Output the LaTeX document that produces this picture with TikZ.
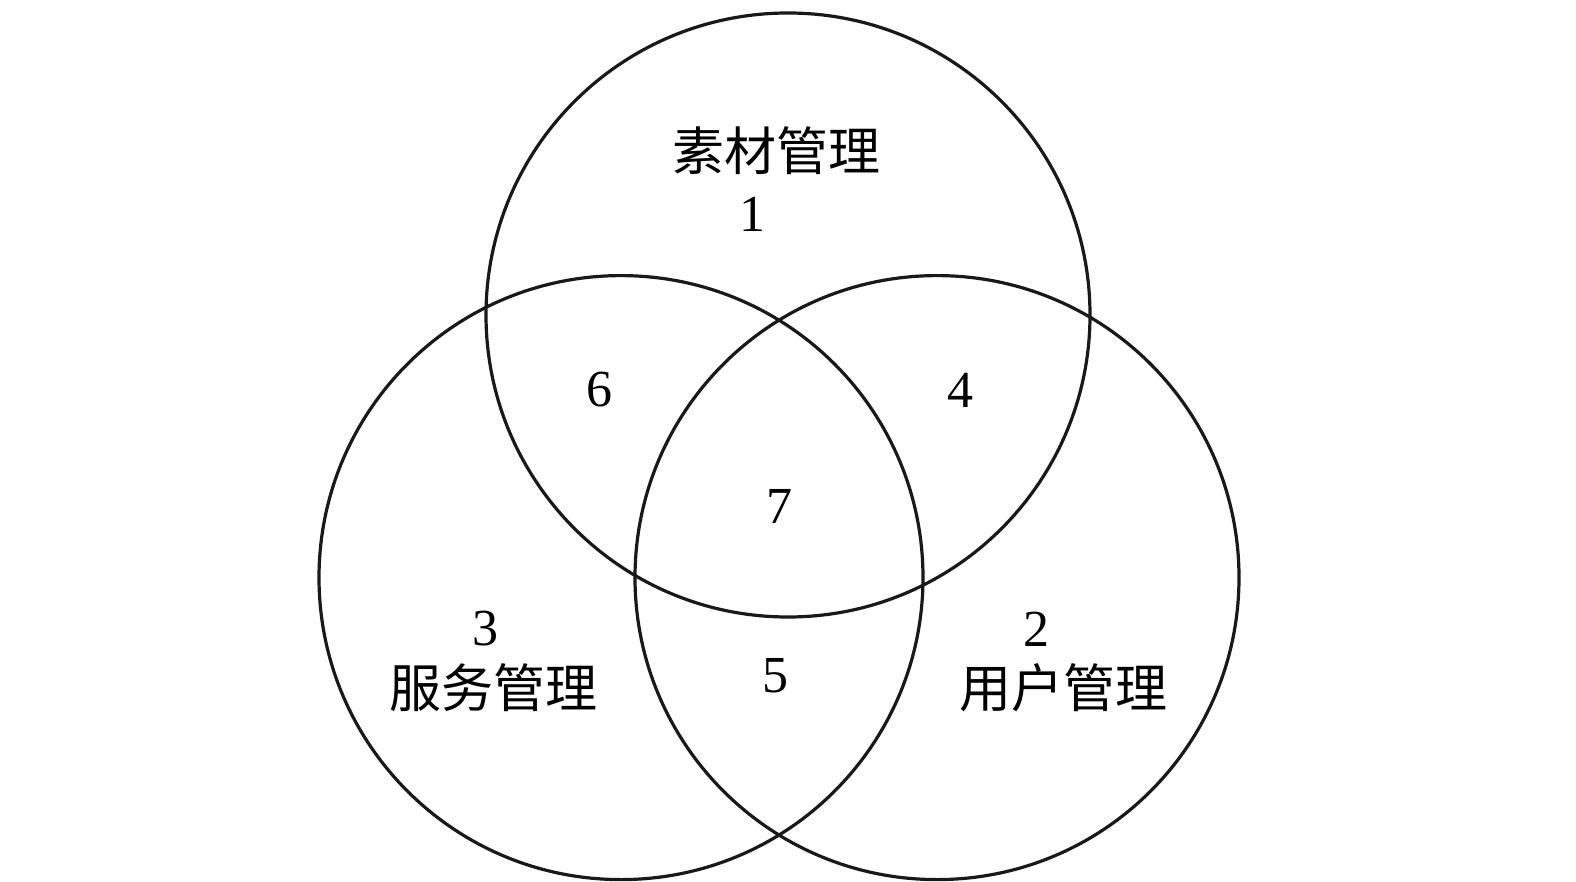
\documentclass[tikz,border=0pt]{standalone}
\usepackage{fontspec}
\setmainfont{Liberation Serif}
\newfontfamily\cjk{Noto Sans CJK SC}
\begin{document}
\begin{tikzpicture}[x=1pt,y=-1pt,
  ring/.style={draw=black!90, line width=3.2pt, circle, minimum size=604pt, inner sep=0pt},
  zh/.style={font=\cjk\fontsize{52}{52}\selectfont, inner sep=0pt},
  num/.style={font=\fontsize{52}{52}\selectfont, inner sep=0pt}]
\useasboundingbox (0,0) rectangle (1576,882);
\node[ring] (A) at (788,315) {};
\node[ring] (B) at (621,577.6) {};
\node[ring] (C) at (937,577.6) {};
\node[zh] (tA) at (776,151) {素材管理};
\node[num] (n1) at (752,214) {1};
\node[num] (n6) at (599,390) {6};
\node[num] (n4) at (960,390) {4};
\node[num] (n7) at (779,506) {7};
\node[num] (n3) at (485,629) {3};
\node[zh] (tB) at (493,688) {服务管理};
\node[num] (n5) at (775,676) {5};
\node[num] (n2) at (1036,629) {2};
\node[zh] (tC) at (1063,688) {用户管理};
\end{tikzpicture}
\end{document}
